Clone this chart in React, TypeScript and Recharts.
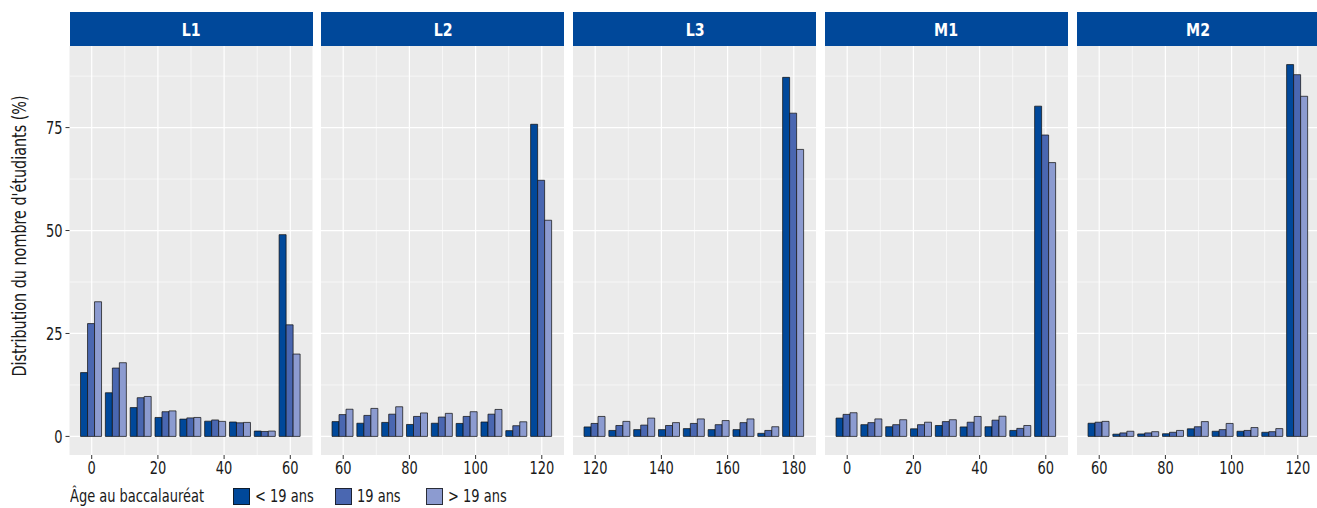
import React from "react";
import { BarChart, Bar, XAxis, YAxis, CartesianGrid } from "recharts";

// Share of students by credits obtained, per age at baccalauréat, faceted by year of study
const creditsL1 = [0, 7.5, 15, 22.5, 30, 37.5, 45, 52.5, 60];
const creditsL2 = [60, 67.5, 75, 82.5, 90, 97.5, 105, 112.5, 120];
const creditsL3 = [120, 127.5, 135, 142.5, 150, 157.5, 165, 172.5, 180];
const creditsM1 = [0, 7.5, 15, 22.5, 30, 37.5, 45, 52.5, 60];
const creditsM2 = [60, 67.5, 75, 82.5, 90, 97.5, 105, 112.5, 120];

const ticksL1 = [0, 20, 40, 60];
const ticksL2 = [60, 80, 100, 120];
const ticksL3 = [120, 140, 160, 180];
const ticksM1 = [0, 20, 40, 60];
const ticksM2 = [60, 80, 100, 120];

const l1Under19 = [15.5, 10.6, 7.0, 4.6, 4.2, 3.7, 3.5, 1.3, 49.0];
const l1At19 = [27.4, 16.6, 9.4, 6.0, 4.5, 4.0, 3.3, 1.2, 27.1];
const l1Over19 = [32.7, 17.9, 9.7, 6.2, 4.6, 3.65, 3.4, 1.3, 20.0];

const l2Under19 = [3.6, 3.2, 3.4, 2.9, 3.2, 3.15, 3.5, 1.4, 75.8];
const l2At19 = [5.3, 5.1, 5.4, 4.85, 4.7, 4.85, 5.4, 2.6, 62.2];
const l2Over19 = [6.6, 6.8, 7.2, 5.7, 5.6, 6.0, 6.55, 3.55, 52.5];

const l3Under19 = [2.3, 1.45, 1.65, 1.65, 1.9, 1.65, 1.65, 0.75, 87.2];
const l3At19 = [3.15, 2.65, 2.75, 2.65, 3.15, 2.85, 3.35, 1.45, 78.5];
const l3Over19 = [4.85, 3.65, 4.45, 3.35, 4.25, 3.85, 4.25, 2.35, 69.7];

const m1Under19 = [4.45, 2.85, 2.35, 1.85, 2.65, 2.3, 2.35, 1.45, 80.2];
const m1At19 = [5.35, 3.35, 2.85, 2.85, 3.6, 3.45, 3.95, 1.95, 73.2];
const m1Over19 = [5.75, 4.25, 4.05, 3.45, 4.05, 4.85, 4.9, 2.65, 66.5];

const m2Under19 = [3.2, 0.55, 0.6, 0.65, 1.85, 1.25, 1.25, 1.0, 90.3];
const m2At19 = [3.45, 0.85, 0.85, 1.0, 2.35, 1.65, 1.45, 1.15, 87.85];
const m2Over19 = [3.65, 1.25, 1.15, 1.45, 3.6, 3.15, 2.15, 1.9, 82.6];

const yTicks = [0, 25, 50, 75];
const yMinor = [12.5, 37.5, 62.5, 87.5];
const Y_DOMAIN: [number, number] = [-4.515, 94.815];

const ageLabels = ["< 19 ans", "19 ans", "> 19 ans"];
const ageColors = ["#00489A", "#4A67B1", "#8C9BD0"];

const FONT = '"DejaVu Sans Condensed", "Liberation Sans Narrow", Roboto, sans-serif';
const NARROW = 0.85; // squeeze the condensed face a bit further
const STRIP = "#00489A";
const TEXT = "#1a1a1a";
const PANEL_W = 243;
const PANEL_H = 409;
const PANEL_LEFT = [69.5, 321.3, 573.1, 824.9, 1076.7];

function XTick({ x, y, payload }: any) {
  return (
    <g transform={`translate(${x},${y})`}>
      <text transform={`scale(${NARROW},1)`} textAnchor="middle" dy="0.74em" fontFamily={FONT} fontSize={17} fill={TEXT}>
        {payload.value}
      </text>
    </g>
  );
}

function YTick({ x, y, payload }: any) {
  return (
    <g transform={`translate(${x},${y})`}>
      <text transform={`scale(${NARROW},1)`} textAnchor="end" dy="0.36em" fontFamily={FONT} fontSize={17} fill={TEXT}>
        {payload.value}
      </text>
    </g>
  );
}

interface PanelProps {
  title: string;
  credits: number[];
  ticks: number[];
  under: number[];
  at: number[];
  over: number[];
  left: number;
  showY?: boolean;
}

function Panel({ title, credits, ticks, under, at, over, left, showY }: PanelProps) {
  const data = credits.map((c, i) => ({ credits: c, under: under[i], at: at[i], over: over[i] }));
  const step = credits[1] - credits[0];
  const lo = credits[0] - step * 0.45;
  const hi = credits[credits.length - 1] + step * 0.45;
  const pad = (hi - lo) * 0.05;
  const minorX = ticks.slice(1).map((t, i) => (t + ticks[i]) / 2);
  const axisW = showY ? left : 0;

  return (
    <>
      <div
        style={{
          position: "absolute",
          left,
          top: 12,
          width: PANEL_W,
          height: 34,
          background: STRIP,
          color: "#fff",
          fontFamily: FONT,
          fontWeight: "bold",
          fontSize: 18.5,
          display: "flex",
          alignItems: "center",
          justifyContent: "center",
        }}
      >
        <span style={{ display: "inline-block", transform: `scaleX(${NARROW})` }}>{title}</span>
      </div>
      <div style={{ position: "absolute", left: left - axisW, top: 46 }}>
        <BarChart
          width={PANEL_W + axisW}
          height={PANEL_H + 26}
          data={data}
          margin={{ top: 0, right: 0, bottom: 0, left: 0 }}
          barGap={0}
          barCategoryGap="5%"
        >
          <CartesianGrid
            fill="#EBEBEB"
            stroke="#fff"
            strokeWidth={0.6}
            horizontalValues={yMinor}
            verticalValues={minorX}
          />
          <CartesianGrid stroke="#fff" strokeWidth={1.2} horizontalValues={yTicks} verticalValues={ticks} />
          <XAxis
            type="number"
            dataKey="credits"
            domain={[lo - pad, hi + pad]}
            allowDataOverflow
            ticks={ticks}
            interval={0}
            height={26}
            axisLine={false}
            tickSize={4}
            tickMargin={2}
            tickLine={{ stroke: "#333" }}
            tick={<XTick />}
          />
          <YAxis
            domain={Y_DOMAIN}
            allowDataOverflow
            ticks={yTicks}
            interval={0}
            hide={!showY}
            width={axisW}
            axisLine={false}
            tickSize={4}
            tickMargin={3}
            tickLine={{ stroke: "#333" }}
            tick={<YTick />}
          />
          {["under", "at", "over"].map((key, i) => (
            <Bar
              key={key}
              dataKey={key}
              fill={ageColors[i]}
              stroke="#111"
              strokeOpacity={0.8}
              strokeWidth={0.9}
              isAnimationActive={false}
            />
          ))}
        </BarChart>
      </div>
    </>
  );
}

const legendKeys = [233, 335, 426];

export default function App() {
  return (
    <div
      style={{
        position: "fixed",
        left: 0,
        top: 0,
        width: 1317,
        height: 508,
        overflow: "hidden",
        background: "#fff",
        fontFamily: FONT,
        color: TEXT,
      }}
    >
      <div
        style={{
          position: "absolute",
          left: 19,
          top: 236,
          transform: `translate(-50%, -50%) rotate(-90deg) scaleX(0.84)`,
          whiteSpace: "nowrap",
          fontSize: 19,
        }}
      >
        Distribution du nombre d'étudiants (%)
      </div>

      <Panel title="L1" credits={creditsL1} ticks={ticksL1} under={l1Under19} at={l1At19} over={l1Over19} left={PANEL_LEFT[0]} showY />
      <Panel title="L2" credits={creditsL2} ticks={ticksL2} under={l2Under19} at={l2At19} over={l2Over19} left={PANEL_LEFT[1]} />
      <Panel title="L3" credits={creditsL3} ticks={ticksL3} under={l3Under19} at={l3At19} over={l3Over19} left={PANEL_LEFT[2]} />
      <Panel title="M1" credits={creditsM1} ticks={ticksM1} under={m1Under19} at={m1At19} over={m1Over19} left={PANEL_LEFT[3]} />
      <Panel title="M2" credits={creditsM2} ticks={ticksM2} under={m2Under19} at={m2At19} over={m2Over19} left={PANEL_LEFT[4]} />

      {/* legend */}
      <div
        style={{
          position: "absolute",
          left: 70,
          top: 486,
          fontSize: 17,
          lineHeight: "20px",
          whiteSpace: "nowrap",
          transform: `scaleX(${NARROW})`,
          transformOrigin: "left center",
        }}
      >
        Âge au baccalauréat
      </div>
      {ageLabels.map((label, i) => (
        <React.Fragment key={label}>
          <div
            style={{
              position: "absolute",
              left: legendKeys[i],
              top: 488,
              width: 15,
              height: 15,
              background: ageColors[i],
              border: "1px solid rgba(17,17,17,0.8)",
            }}
          />
          <div
            style={{
              position: "absolute",
              left: legendKeys[i] + 22,
              top: 486,
              fontSize: 17,
              lineHeight: "20px",
              whiteSpace: "nowrap",
              transform: `scaleX(${NARROW})`,
              transformOrigin: "left center",
            }}
          >
            {label}
          </div>
        </React.Fragment>
      ))}
    </div>
  );
}
